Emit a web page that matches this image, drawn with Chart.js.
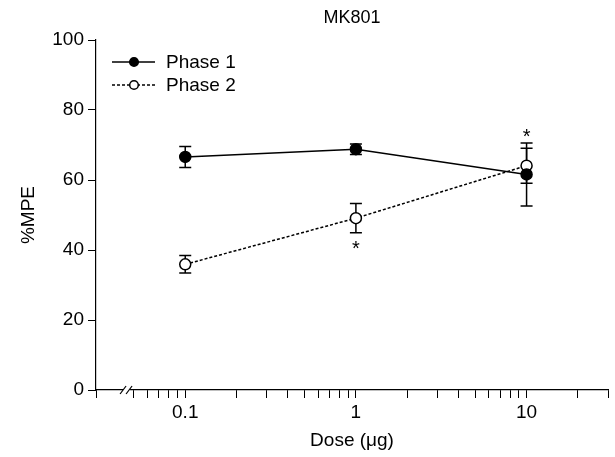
<!DOCTYPE html>
<html>
<head>
<meta charset="utf-8">
<script src="https://cdn.jsdelivr.net/npm/chart.js@4.4.1/dist/chart.umd.min.js"></script>
<style>
  html, body { margin: 0; padding: 0; background: #fff; }
  #wrap { width: 615px; height: 457px; }
</style>
</head>
<body>
<div id="wrap"><canvas id="mkChart" width="615" height="457"></canvas></div>
<script>
// values
const doses = [0.1, 1, 10];
const phase1 = [66.6, 68.8, 61.6];
const phase1Err = [3.0, 1.5, 9.0];
const phase2 = [35.9, 49.1, 64.1];
const phase2Err = [2.5, 4.2, 5.0];

const xTickValues = [0.03, 0.05, 0.06, 0.07, 0.08, 0.09, 0.1, 0.2, 0.3, 0.4, 0.5, 0.6, 0.7, 0.8, 0.9,
    1, 2, 3, 4, 5, 6, 7, 8, 9, 10, 20, 30];
const xLabelled = [0.1, 1, 10];
const yTickValues = [0, 20, 40, 60, 80, 100];

// significance marks: dose, which side of the error bars
const sigDoses = [1, 10];
const sigSide = ['below', 'above'];

const FONT = "'Liberation Sans', Arial, Helvetica, sans-serif";
Chart.defaults.font.family = FONT;
Chart.defaults.color = '#000';

function toPoints(ys) {
    return doses.map((d, i) => ({ x: d, y: ys[i] }));
}

const errs = [phase1Err, phase2Err];

const extras = {
    id: 'extras',
    beforeDatasetsDraw(chart) {
        const ctx = chart.ctx;
        const xs = chart.scales.x, ys = chart.scales.y;
        ctx.save();
        ctx.strokeStyle = '#000';
        ctx.lineWidth = 1.5;
        chart.data.datasets.forEach((ds, k) => {
            ds.data.forEach((p, i) => {
                const x = xs.getPixelForValue(p.x);
                const t = ys.getPixelForValue(p.y + errs[k][i]);
                const b = ys.getPixelForValue(p.y - errs[k][i]);
                ctx.beginPath();
                ctx.moveTo(x, t); ctx.lineTo(x, b);
                ctx.moveTo(x - 6, t); ctx.lineTo(x + 6, t);
                ctx.moveTo(x - 6, b); ctx.lineTo(x + 6, b);
                ctx.stroke();
            });
        });
        ctx.restore();
    },
    afterDraw(chart) {
        const ctx = chart.ctx;
        const xs = chart.scales.x, ys = chart.scales.y;
        const area = chart.chartArea;
        ctx.save();

        // asterisks
        ctx.font = '20px ' + FONT;
        ctx.textAlign = 'center';
        ctx.textBaseline = 'middle';
        ctx.fillStyle = '#000';
        sigDoses.forEach((d, n) => {
            const i = doses.indexOf(d);
            const x = xs.getPixelForValue(d);
            let y;
            if (sigSide[n] === 'below') {
                const lo = Math.min(phase1[i] - phase1Err[i], phase2[i] - phase2Err[i]);
                y = ys.getPixelForValue(lo) + 13;
            } else {
                const hi = Math.max(phase1[i] + phase1Err[i], phase2[i] + phase2Err[i]);
                y = ys.getPixelForValue(hi) - 9;
            }
            ctx.fillText('*', x, y + 4);
        });

        // axis break
        const bx = xs.getPixelForValue(0.045);
        ctx.fillStyle = '#fff';
        ctx.fillRect(bx - 3, area.bottom - 1, 7, 3);
        ctx.strokeStyle = '#000';
        ctx.lineWidth = 1.2;
        [-3, 3].forEach(o => {
            ctx.beginPath();
            ctx.moveTo(bx + o - 3, area.bottom + 4);
            ctx.lineTo(bx + o + 3, area.bottom - 4);
            ctx.stroke();
        });

        // legend
        const lx = 112, ly = [62, 85];
        chart.data.datasets.forEach((ds, k) => {
            ctx.strokeStyle = '#000';
            ctx.lineWidth = 1.5;
            ctx.setLineDash(ds.borderDash || []);
            ctx.beginPath();
            ctx.moveTo(lx, ly[k]); ctx.lineTo(lx + 43, ly[k]);
            ctx.stroke();
            ctx.setLineDash([]);
            ctx.beginPath();
            ctx.arc(lx + 22, ly[k], 4.3, 0, Math.PI * 2);
            ctx.fillStyle = ds.pointBackgroundColor;
            ctx.fill();
            ctx.stroke();
            ctx.fillStyle = '#000';
            ctx.font = '19px ' + FONT;
            ctx.textAlign = 'left';
            ctx.textBaseline = 'middle';
            ctx.fillText(ds.label, lx + 54, ly[k] + 1);
        });
        ctx.restore();
    }
};

const dataSet = {
    datasets: [{
        label: 'Phase 1',
        data: toPoints(phase1),
        borderColor: '#000',
        borderWidth: 1.5,
        pointRadius: 5.5,
        pointBackgroundColor: '#000',
        pointBorderColor: '#000',
        pointBorderWidth: 1.5,
        tension: 0
    }, {
        label: 'Phase 2',
        data: toPoints(phase2),
        borderColor: '#000',
        borderWidth: 1.5,
        borderDash: [3, 2],
        pointRadius: 5.5,
        pointBackgroundColor: '#fff',
        pointBorderColor: '#000',
        pointBorderWidth: 1.5,
        tension: 0
    }]
};

const config = {
    type: 'line',
    data: dataSet,
    options: {
        responsive: false,
        animation: false,
        devicePixelRatio: 1,
        layout: { padding: { left: 0, right: 6, top: 0, bottom: 0 } },
        plugins: {
            legend: { display: false },
            tooltip: { enabled: false },
            title: {
                display: true,
                text: 'MK801',
                fullSize: false,
                color: '#000',
                font: { size: 18, weight: 'normal' },
                padding: { top: 7, bottom: 11.4 }
            }
        },
        scales: {
            x: {
                type: 'logarithmic',
                min: 0.03,
                max: 30,
                afterBuildTicks: scale => {
                    scale.ticks = xTickValues.map(v => ({ value: v }));
                },
                afterFit: scale => { scale.height = 67; },
                ticks: {
                    autoSkip: false,
                    maxRotation: 0,
                    font: { size: 19 },
                    color: '#000',
                    padding: 3,
                    callback: v => xLabelled.includes(v) ? String(v) : ''
                },
                grid: { drawOnChartArea: false, drawTicks: true, tickLength: 8, color: '#000', lineWidth: 1 },
                border: { color: '#000', width: 1.2 },
                title: {
                    display: true,
                    text: 'Dose (\u03bcg)',
                    color: '#000',
                    font: { size: 19 },
                    padding: { top: 4, bottom: 5 }
                }
            },
            y: {
                min: 0,
                max: 100,
                afterBuildTicks: scale => {
                    scale.ticks = yTickValues.map(v => ({ value: v }));
                },
                afterFit: scale => { scale.width = 96; },
                ticks: { font: { size: 19 }, color: '#000', padding: 4 },
                grid: { drawOnChartArea: false, drawTicks: true, tickLength: 8, color: '#000', lineWidth: 1 },
                border: { color: '#000', width: 1.2 },
                title: {
                    display: true,
                    text: '%MPE',
                    color: '#000',
                    font: { size: 19 },
                    padding: { top: 17, bottom: 17 }
                }
            }
        }
    },
    plugins: [extras]
};

const mkChart = new Chart(document.getElementById('mkChart'), config);
</script>
</body>
</html>
